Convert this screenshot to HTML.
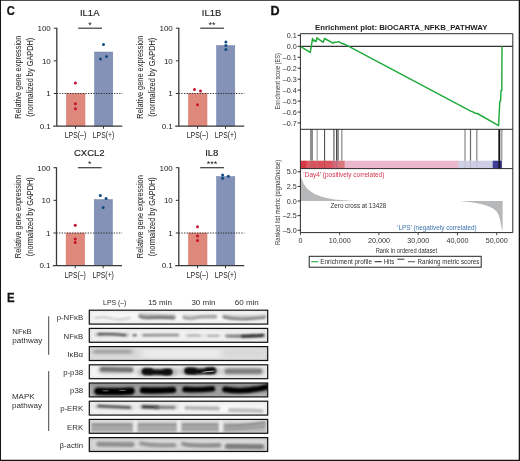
<!DOCTYPE html>
<html><head><meta charset="utf-8"><title>Figure</title>
<style>
html,body{margin:0;padding:0;background:#fff;}
body{width:520px;height:461px;overflow:hidden;position:relative;}
svg{position:absolute;left:0;top:0;display:block;}
svg text{font-family:"Liberation Sans",sans-serif;}
</style></head><body>
<svg width="520" height="461" viewBox="0 0 520 461">
<rect x="0" y="0" width="520" height="461" fill="#fff"/>
<g id="panelC">
<text x="89.7" y="16.2" font-size="9.5" text-anchor="middle" fill="#1c1c1c" stroke="#1c1c1c" stroke-width="0.15">IL1A</text>
<rect x="66.39999999999999" y="93.5" width="18.6" height="32.64999999999999" fill="#df887c" stroke="#d4756a" stroke-width="0.5"/>
<rect x="94.5" y="52.0" width="18.3" height="74.14999999999999" fill="#8492b7" stroke="#7383ad" stroke-width="0.5"/>
<line x1="56.8" y1="93.5" x2="122.3" y2="93.5" stroke="#222" stroke-width="0.9" stroke-dasharray="1.3 1.3"/>
<path d="M56.8 27.7V126.14999999999999M53.199999999999996 126.14999999999999H122.3" stroke="#3a3a3a" stroke-width="1.3" fill="none"/>
<line x1="53.8" y1="28.2" x2="56.8" y2="28.2" stroke="#333333" stroke-width="1"/>
<line x1="53.8" y1="60.849999999999994" x2="56.8" y2="60.849999999999994" stroke="#333333" stroke-width="1"/>
<line x1="53.8" y1="93.5" x2="56.8" y2="93.5" stroke="#333333" stroke-width="1"/>
<line x1="75.5" y1="126.14999999999999" x2="75.5" y2="128.75" stroke="#333333" stroke-width="1"/>
<line x1="103.5" y1="126.14999999999999" x2="103.5" y2="128.75" stroke="#333333" stroke-width="1"/>
<text x="50.8" y="31.0" font-size="8" text-anchor="end" fill="#222">100</text>
<text x="50.8" y="63.64999999999999" font-size="8" text-anchor="end" fill="#222">10</text>
<text x="50.8" y="96.3" font-size="8" text-anchor="end" fill="#222">1</text>
<text x="50.8" y="128.95" font-size="8" text-anchor="end" fill="#222">0.1</text>
<text x="75.5" y="138.25" font-size="8.6" text-anchor="middle" fill="#222" textLength="21.4" lengthAdjust="spacingAndGlyphs">LPS(–)</text>
<text x="103.5" y="138.25" font-size="8.6" text-anchor="middle" fill="#222" textLength="21.4" lengthAdjust="spacingAndGlyphs">LPS(+)</text>
<text x="21.4" y="77.175" font-size="9" text-anchor="middle" fill="#222" textLength="83" lengthAdjust="spacingAndGlyphs" transform="rotate(-90 21.4 77.175)">Relative gene expression</text>
<text x="33.5" y="77.175" font-size="9" text-anchor="middle" fill="#222" textLength="79" lengthAdjust="spacingAndGlyphs" transform="rotate(-90 33.5 77.175)">(normalized by GAPDH)</text>
<line x1="78.19999999999999" y1="28.2" x2="102.0" y2="28.2" stroke="#3a3a3a" stroke-width="1.2"/>
<text x="90.0" y="27.599999999999998" font-size="9" text-anchor="middle" fill="#222">*</text>
<circle cx="75.4" cy="82.9" r="1.5" fill="#c4122f"/>
<circle cx="75.4" cy="103.7" r="1.5" fill="#c4122f"/>
<circle cx="75.4" cy="108.8" r="1.5" fill="#c4122f"/>
<circle cx="103.5" cy="44.5" r="1.5" fill="#0f4c81"/>
<circle cx="100.5" cy="59.0" r="1.5" fill="#0f4c81"/>
<circle cx="106.5" cy="56.5" r="1.5" fill="#0f4c81"/>
<text x="211.6" y="16.2" font-size="9.5" text-anchor="middle" fill="#1c1c1c" stroke="#1c1c1c" stroke-width="0.15">IL1B</text>
<rect x="188.4" y="93.5" width="18.6" height="32.64999999999999" fill="#df887c" stroke="#d4756a" stroke-width="0.5"/>
<rect x="216.5" y="45.5" width="18.3" height="80.64999999999999" fill="#8492b7" stroke="#7383ad" stroke-width="0.5"/>
<line x1="178.8" y1="93.5" x2="244.3" y2="93.5" stroke="#222" stroke-width="0.9" stroke-dasharray="1.3 1.3"/>
<path d="M178.8 27.7V126.14999999999999M175.20000000000002 126.14999999999999H244.3" stroke="#3a3a3a" stroke-width="1.3" fill="none"/>
<line x1="175.8" y1="28.2" x2="178.8" y2="28.2" stroke="#333333" stroke-width="1"/>
<line x1="175.8" y1="60.849999999999994" x2="178.8" y2="60.849999999999994" stroke="#333333" stroke-width="1"/>
<line x1="175.8" y1="93.5" x2="178.8" y2="93.5" stroke="#333333" stroke-width="1"/>
<line x1="197.5" y1="126.14999999999999" x2="197.5" y2="128.75" stroke="#333333" stroke-width="1"/>
<line x1="225.5" y1="126.14999999999999" x2="225.5" y2="128.75" stroke="#333333" stroke-width="1"/>
<text x="172.8" y="31.0" font-size="8" text-anchor="end" fill="#222">100</text>
<text x="172.8" y="63.64999999999999" font-size="8" text-anchor="end" fill="#222">10</text>
<text x="172.8" y="96.3" font-size="8" text-anchor="end" fill="#222">1</text>
<text x="172.8" y="128.95" font-size="8" text-anchor="end" fill="#222">0.1</text>
<text x="197.5" y="138.25" font-size="8.6" text-anchor="middle" fill="#222" textLength="21.4" lengthAdjust="spacingAndGlyphs">LPS(–)</text>
<text x="225.5" y="138.25" font-size="8.6" text-anchor="middle" fill="#222" textLength="21.4" lengthAdjust="spacingAndGlyphs">LPS(+)</text>
<text x="143.4" y="77.175" font-size="9" text-anchor="middle" fill="#222" textLength="83" lengthAdjust="spacingAndGlyphs" transform="rotate(-90 143.4 77.175)">Relative gene expression</text>
<text x="155.5" y="77.175" font-size="9" text-anchor="middle" fill="#222" textLength="79" lengthAdjust="spacingAndGlyphs" transform="rotate(-90 155.5 77.175)">(normalized by GAPDH)</text>
<line x1="200.20000000000002" y1="28.2" x2="224.0" y2="28.2" stroke="#3a3a3a" stroke-width="1.2"/>
<text x="212.0" y="27.599999999999998" font-size="9" text-anchor="middle" fill="#222">**</text>
<circle cx="194.5" cy="89.6" r="1.5" fill="#c4122f"/>
<circle cx="200.5" cy="91.0" r="1.5" fill="#c4122f"/>
<circle cx="197.5" cy="104.8" r="1.5" fill="#c4122f"/>
<circle cx="225.9" cy="42.0" r="1.5" fill="#0f4c81"/>
<circle cx="225.9" cy="45.5" r="1.5" fill="#0f4c81"/>
<circle cx="225.9" cy="49.6" r="1.5" fill="#0f4c81"/>
<text x="89.3" y="155.7" font-size="9.5" text-anchor="middle" fill="#1c1c1c" stroke="#1c1c1c" stroke-width="0.15">CXCL2</text>
<rect x="66.1" y="233.0" width="18.6" height="32.64999999999998" fill="#df887c" stroke="#d4756a" stroke-width="0.5"/>
<rect x="94.2" y="199.5" width="18.3" height="66.14999999999998" fill="#8492b7" stroke="#7383ad" stroke-width="0.5"/>
<line x1="56.5" y1="233.0" x2="122.0" y2="233.0" stroke="#222" stroke-width="0.9" stroke-dasharray="1.3 1.3"/>
<path d="M56.5 167.2V265.65M52.9 265.65H122.0" stroke="#3a3a3a" stroke-width="1.3" fill="none"/>
<line x1="53.5" y1="167.7" x2="56.5" y2="167.7" stroke="#333333" stroke-width="1"/>
<line x1="53.5" y1="200.35" x2="56.5" y2="200.35" stroke="#333333" stroke-width="1"/>
<line x1="53.5" y1="233.0" x2="56.5" y2="233.0" stroke="#333333" stroke-width="1"/>
<line x1="75.2" y1="265.65" x2="75.2" y2="268.25" stroke="#333333" stroke-width="1"/>
<line x1="103.2" y1="265.65" x2="103.2" y2="268.25" stroke="#333333" stroke-width="1"/>
<text x="50.5" y="170.5" font-size="8" text-anchor="end" fill="#222">100</text>
<text x="50.5" y="203.15" font-size="8" text-anchor="end" fill="#222">10</text>
<text x="50.5" y="235.8" font-size="8" text-anchor="end" fill="#222">1</text>
<text x="50.5" y="268.45" font-size="8" text-anchor="end" fill="#222">0.1</text>
<text x="75.2" y="277.75" font-size="8.6" text-anchor="middle" fill="#222" textLength="21.4" lengthAdjust="spacingAndGlyphs">LPS(–)</text>
<text x="103.2" y="277.75" font-size="8.6" text-anchor="middle" fill="#222" textLength="21.4" lengthAdjust="spacingAndGlyphs">LPS(+)</text>
<text x="21.1" y="216.67499999999998" font-size="9" text-anchor="middle" fill="#222" textLength="83" lengthAdjust="spacingAndGlyphs" transform="rotate(-90 21.1 216.67499999999998)">Relative gene expression</text>
<text x="33.2" y="216.67499999999998" font-size="9" text-anchor="middle" fill="#222" textLength="79" lengthAdjust="spacingAndGlyphs" transform="rotate(-90 33.2 216.67499999999998)">(normalized by GAPDH)</text>
<line x1="77.9" y1="167.7" x2="101.7" y2="167.7" stroke="#3a3a3a" stroke-width="1.2"/>
<text x="89.7" y="167.1" font-size="9" text-anchor="middle" fill="#222">*</text>
<circle cx="75.2" cy="225.2" r="1.5" fill="#c4122f"/>
<circle cx="75.2" cy="239.1" r="1.5" fill="#c4122f"/>
<circle cx="75.2" cy="242.5" r="1.5" fill="#c4122f"/>
<circle cx="100.3" cy="195.6" r="1.5" fill="#0f4c81"/>
<circle cx="106.1" cy="198.6" r="1.5" fill="#0f4c81"/>
<circle cx="103.1" cy="207.4" r="1.5" fill="#0f4c81"/>
<text x="211.8" y="155.7" font-size="9.5" text-anchor="middle" fill="#1c1c1c" stroke="#1c1c1c" stroke-width="0.15">IL8</text>
<rect x="188.4" y="233.0" width="18.6" height="32.64999999999998" fill="#df887c" stroke="#d4756a" stroke-width="0.5"/>
<rect x="216.5" y="176.5" width="18.3" height="89.14999999999998" fill="#8492b7" stroke="#7383ad" stroke-width="0.5"/>
<line x1="178.8" y1="233.0" x2="244.3" y2="233.0" stroke="#222" stroke-width="0.9" stroke-dasharray="1.3 1.3"/>
<path d="M178.8 167.2V265.65M175.20000000000002 265.65H244.3" stroke="#3a3a3a" stroke-width="1.3" fill="none"/>
<line x1="175.8" y1="167.7" x2="178.8" y2="167.7" stroke="#333333" stroke-width="1"/>
<line x1="175.8" y1="200.35" x2="178.8" y2="200.35" stroke="#333333" stroke-width="1"/>
<line x1="175.8" y1="233.0" x2="178.8" y2="233.0" stroke="#333333" stroke-width="1"/>
<line x1="197.5" y1="265.65" x2="197.5" y2="268.25" stroke="#333333" stroke-width="1"/>
<line x1="225.5" y1="265.65" x2="225.5" y2="268.25" stroke="#333333" stroke-width="1"/>
<text x="172.8" y="170.5" font-size="8" text-anchor="end" fill="#222">100</text>
<text x="172.8" y="203.15" font-size="8" text-anchor="end" fill="#222">10</text>
<text x="172.8" y="235.8" font-size="8" text-anchor="end" fill="#222">1</text>
<text x="172.8" y="268.45" font-size="8" text-anchor="end" fill="#222">0.1</text>
<text x="197.5" y="277.75" font-size="8.6" text-anchor="middle" fill="#222" textLength="21.4" lengthAdjust="spacingAndGlyphs">LPS(–)</text>
<text x="225.5" y="277.75" font-size="8.6" text-anchor="middle" fill="#222" textLength="21.4" lengthAdjust="spacingAndGlyphs">LPS(+)</text>
<text x="143.4" y="216.67499999999998" font-size="9" text-anchor="middle" fill="#222" textLength="83" lengthAdjust="spacingAndGlyphs" transform="rotate(-90 143.4 216.67499999999998)">Relative gene expression</text>
<text x="155.5" y="216.67499999999998" font-size="9" text-anchor="middle" fill="#222" textLength="79" lengthAdjust="spacingAndGlyphs" transform="rotate(-90 155.5 216.67499999999998)">(normalized by GAPDH)</text>
<line x1="200.20000000000002" y1="167.7" x2="224.0" y2="167.7" stroke="#3a3a3a" stroke-width="1.2"/>
<text x="212.0" y="167.1" font-size="9" text-anchor="middle" fill="#222">***</text>
<circle cx="197.5" cy="226.8" r="1.5" fill="#c4122f"/>
<circle cx="197.5" cy="236.1" r="1.5" fill="#c4122f"/>
<circle cx="197.5" cy="240.5" r="1.5" fill="#c4122f"/>
<circle cx="222.6" cy="175.1" r="1.5" fill="#0f4c81"/>
<circle cx="228.4" cy="176.2" r="1.5" fill="#0f4c81"/>
<circle cx="222.6" cy="178.3" r="1.5" fill="#0f4c81"/>
</g>
<text x="6.8" y="15.5" font-size="12" text-anchor="start" fill="#111" font-weight="bold" stroke="#111" stroke-width="0.25" transform="translate(6.8 0) scale(0.93 1) translate(-6.8 0)">C</text>
<text x="270.4" y="15.5" font-size="12" text-anchor="start" fill="#111" font-weight="bold" stroke="#111" stroke-width="0.25" transform="translate(270.4 0) scale(1.05 1) translate(-270.4 0)">D</text>
<text x="6.9" y="302.0" font-size="12" text-anchor="start" fill="#111" font-weight="bold" stroke="#111" stroke-width="0.25" transform="translate(6.9 0) scale(0.95 1) translate(-6.9 0)">E</text>
<g id="panelD">
<text x="315" y="29.5" font-size="7.6" text-anchor="start" fill="#222" font-weight="bold" textLength="172.4" lengthAdjust="spacingAndGlyphs">Enrichment plot: BIOCARTA_NFKB_PATHWAY</text>
<line x1="297.59999999999997" y1="35.400000000000006" x2="300.4" y2="35.400000000000006" stroke="#333333" stroke-width="1.05"/>
<text x="296.79999999999995" y="37.900000000000006" font-size="7.2" text-anchor="end" fill="#2e2e2e">0.1</text>
<line x1="297.59999999999997" y1="46.35" x2="300.4" y2="46.35" stroke="#333333" stroke-width="1.05"/>
<text x="296.79999999999995" y="48.85" font-size="7.2" text-anchor="end" fill="#2e2e2e">0.0</text>
<line x1="297.59999999999997" y1="57.3" x2="300.4" y2="57.3" stroke="#333333" stroke-width="1.05"/>
<text x="296.79999999999995" y="59.8" font-size="7.2" text-anchor="end" fill="#2e2e2e">–0.1</text>
<line x1="297.59999999999997" y1="68.25" x2="300.4" y2="68.25" stroke="#333333" stroke-width="1.05"/>
<text x="296.79999999999995" y="70.75" font-size="7.2" text-anchor="end" fill="#2e2e2e">–0.2</text>
<line x1="297.59999999999997" y1="79.19999999999999" x2="300.4" y2="79.19999999999999" stroke="#333333" stroke-width="1.05"/>
<text x="296.79999999999995" y="81.69999999999999" font-size="7.2" text-anchor="end" fill="#2e2e2e">–0.3</text>
<line x1="297.59999999999997" y1="90.15" x2="300.4" y2="90.15" stroke="#333333" stroke-width="1.05"/>
<text x="296.79999999999995" y="92.65" font-size="7.2" text-anchor="end" fill="#2e2e2e">–0.4</text>
<line x1="297.59999999999997" y1="101.1" x2="300.4" y2="101.1" stroke="#333333" stroke-width="1.05"/>
<text x="296.79999999999995" y="103.6" font-size="7.2" text-anchor="end" fill="#2e2e2e">–0.5</text>
<line x1="297.59999999999997" y1="112.04999999999998" x2="300.4" y2="112.04999999999998" stroke="#333333" stroke-width="1.05"/>
<text x="296.79999999999995" y="114.54999999999998" font-size="7.2" text-anchor="end" fill="#2e2e2e">–0.6</text>
<line x1="297.59999999999997" y1="123.0" x2="300.4" y2="123.0" stroke="#333333" stroke-width="1.05"/>
<text x="296.79999999999995" y="125.5" font-size="7.2" text-anchor="end" fill="#2e2e2e">–0.7</text>
<text x="279.6" y="81.3" font-size="7.7" text-anchor="middle" fill="#383838" textLength="56.5" lengthAdjust="spacingAndGlyphs" transform="rotate(-90 279.6 81.3)">Enrichment score (ES)</text>
<line x1="300.4" y1="46.35" x2="512.8" y2="46.35" stroke="#333" stroke-width="1.1"/>
<polyline fill="none" stroke="#1faa3a" stroke-width="1.45" stroke-linejoin="round" points="300.4,46.30 310.2,52.40 311.4,45.90 312.5,38.50 313.8,41.20 314.5,40.20 316.1,41.60 316.9,37.80 323.3,42.30 324.6,38.50 333.0,43.20 334.3,42.10 336.0,42.40 338.7,41.60 341.4,43.20 344.8,44.30 348.8,46.40 471.2,111.40 472.5,111.70 475.0,113.30 477.4,113.50 498.6,125.60 499.8,101.40 500.6,100.90 501.0,90.70 501.8,90.40 502.0,46.40"/>
<defs><linearGradient id="cb" x1="0" x2="1" y1="0" y2="0" gradientUnits="objectBoundingBox">
<stop offset="0.0000" stop-color="#d5363f"/>
<stop offset="0.0245" stop-color="#d63a44"/>
<stop offset="0.0330" stop-color="#db5a62"/>
<stop offset="0.0428" stop-color="#db5a62"/>
<stop offset="0.0499" stop-color="#d8505a"/>
<stop offset="0.1111" stop-color="#d9525b"/>
<stop offset="0.1441" stop-color="#d9565e"/>
<stop offset="0.1605" stop-color="#d8657a"/>
<stop offset="0.1742" stop-color="#d66c86"/>
<stop offset="0.1789" stop-color="#dd7378"/>
<stop offset="0.2053" stop-color="#de7679"/>
<stop offset="0.2109" stop-color="#ecb6cd"/>
<stop offset="0.7401" stop-color="#ecb6cd"/>
<stop offset="0.7458" stop-color="#cfcfe6"/>
<stop offset="0.9030" stop-color="#cdcde5"/>
<stop offset="0.9077" stop-color="#40409a"/>
<stop offset="0.9473" stop-color="#3c3c94"/>
<stop offset="0.9510" stop-color="#ffffff"/>
<stop offset="1.0000" stop-color="#ffffff"/>
</linearGradient></defs>
<rect x="300.4" y="160.7" width="212.39999999999998" height="7.900000000000006" fill="url(#cb)"/>
<line x1="311.5" y1="129.3" x2="311.5" y2="160.7" stroke="#8e8e8e" stroke-width="3.0"/>
<line x1="311.5" y1="160.7" x2="311.5" y2="168.6" stroke="#8e8e8e" stroke-width="3.0" opacity="0.18"/>
<line x1="317.2" y1="129.3" x2="317.2" y2="160.7" stroke="#b2b2b2" stroke-width="1.4"/>
<line x1="317.2" y1="160.7" x2="317.2" y2="168.6" stroke="#b2b2b2" stroke-width="1.4" opacity="0.18"/>
<line x1="324.6" y1="129.3" x2="324.6" y2="160.7" stroke="#2a2a2a" stroke-width="0.9"/>
<line x1="324.6" y1="160.7" x2="324.6" y2="168.6" stroke="#2a2a2a" stroke-width="0.9" opacity="0.18"/>
<line x1="333.9" y1="129.3" x2="333.9" y2="160.7" stroke="#8e8e8e" stroke-width="1.7"/>
<line x1="333.9" y1="160.7" x2="333.9" y2="168.6" stroke="#8e8e8e" stroke-width="1.7" opacity="0.18"/>
<line x1="338.0" y1="129.3" x2="338.0" y2="160.7" stroke="#929292" stroke-width="2.0"/>
<line x1="338.0" y1="160.7" x2="338.0" y2="168.6" stroke="#929292" stroke-width="2.0" opacity="0.18"/>
<line x1="336.5" y1="129.3" x2="336.5" y2="160.7" stroke="#4a4a4a" stroke-width="1.0"/>
<line x1="336.5" y1="160.7" x2="336.5" y2="168.6" stroke="#4a4a4a" stroke-width="1.0" opacity="0.18"/>
<line x1="341.8" y1="129.3" x2="341.8" y2="160.7" stroke="#9e9e9e" stroke-width="1.5"/>
<line x1="341.8" y1="160.7" x2="341.8" y2="168.6" stroke="#9e9e9e" stroke-width="1.5" opacity="0.18"/>
<line x1="465.0" y1="129.3" x2="465.0" y2="160.7" stroke="#9a9a9a" stroke-width="1.4"/>
<line x1="465.0" y1="160.7" x2="465.0" y2="168.6" stroke="#9a9a9a" stroke-width="1.4" opacity="0.18"/>
<line x1="470.5" y1="129.3" x2="470.5" y2="160.7" stroke="#6c6c6c" stroke-width="1.2"/>
<line x1="470.5" y1="160.7" x2="470.5" y2="168.6" stroke="#6c6c6c" stroke-width="1.2" opacity="0.18"/>
<line x1="476.8" y1="129.3" x2="476.8" y2="160.7" stroke="#8c8c8c" stroke-width="1.3"/>
<line x1="476.8" y1="160.7" x2="476.8" y2="168.6" stroke="#8c8c8c" stroke-width="1.3" opacity="0.18"/>
<line x1="499.3" y1="129.3" x2="499.3" y2="160.7" stroke="#111" stroke-width="1.9"/>
<line x1="499.3" y1="160.7" x2="499.3" y2="168.6" stroke="#111" stroke-width="1.9" opacity="0.9"/>
<line x1="501.8" y1="129.3" x2="501.8" y2="160.7" stroke="#8c8c8c" stroke-width="1.2"/>
<line x1="501.8" y1="160.7" x2="501.8" y2="168.6" stroke="#8c8c8c" stroke-width="1.2" opacity="0.18"/>
<polygon fill="#b7b8ba" points="300.40,200.95 300.40,175.85 300.90,176.95 301.80,179.05 303.70,183.65 305.50,186.55 307.50,188.85 311.40,191.95 315.20,194.25 321.00,196.55 326.80,198.05 334.50,199.45 344.10,200.35 353.70,200.95"/>
<polygon fill="#b7b8ba" points="459.40,201.05 467.50,201.65 474.20,202.65 481.00,203.95 487.70,205.95 493.10,208.45 496.40,211.15 498.50,214.45 500.10,219.85 501.10,225.25 502.20,230.35 502.60,230.35 502.60,201.05"/>
<line x1="297.59999999999997" y1="171.76" x2="300.4" y2="171.76" stroke="#333333" stroke-width="1.05"/>
<text x="296.79999999999995" y="174.26" font-size="7.2" text-anchor="end" fill="#2e2e2e">5.0</text>
<line x1="297.59999999999997" y1="186.38" x2="300.4" y2="186.38" stroke="#333333" stroke-width="1.05"/>
<text x="296.79999999999995" y="188.88" font-size="7.2" text-anchor="end" fill="#2e2e2e">2.5</text>
<line x1="297.59999999999997" y1="201.0" x2="300.4" y2="201.0" stroke="#333333" stroke-width="1.05"/>
<text x="296.79999999999995" y="203.5" font-size="7.2" text-anchor="end" fill="#2e2e2e">0.0</text>
<line x1="297.59999999999997" y1="215.62" x2="300.4" y2="215.62" stroke="#333333" stroke-width="1.05"/>
<text x="296.79999999999995" y="218.12" font-size="7.2" text-anchor="end" fill="#2e2e2e">–2.5</text>
<line x1="297.59999999999997" y1="230.24" x2="300.4" y2="230.24" stroke="#333333" stroke-width="1.05"/>
<text x="296.79999999999995" y="232.74" font-size="7.2" text-anchor="end" fill="#2e2e2e">–5.0</text>
<line x1="300.4" y1="232.6" x2="300.4" y2="235.2" stroke="#333333" stroke-width="0.9"/>
<text x="300.4" y="243.2" font-size="7.2" text-anchor="middle" fill="#333">0</text>
<line x1="339.65999999999997" y1="232.6" x2="339.65999999999997" y2="235.2" stroke="#333333" stroke-width="0.9"/>
<text x="339.65999999999997" y="243.2" font-size="7.2" text-anchor="middle" fill="#333">10,000</text>
<line x1="378.91999999999996" y1="232.6" x2="378.91999999999996" y2="235.2" stroke="#333333" stroke-width="0.9"/>
<text x="378.91999999999996" y="243.2" font-size="7.2" text-anchor="middle" fill="#333">20,000</text>
<line x1="418.17999999999995" y1="232.6" x2="418.17999999999995" y2="235.2" stroke="#333333" stroke-width="0.9"/>
<text x="418.17999999999995" y="243.2" font-size="7.2" text-anchor="middle" fill="#333">30,000</text>
<line x1="457.43999999999994" y1="232.6" x2="457.43999999999994" y2="235.2" stroke="#333333" stroke-width="0.9"/>
<text x="457.43999999999994" y="243.2" font-size="7.2" text-anchor="middle" fill="#333">40,000</text>
<line x1="496.7" y1="232.6" x2="496.7" y2="235.2" stroke="#333333" stroke-width="0.9"/>
<text x="496.7" y="243.2" font-size="7.2" text-anchor="middle" fill="#333">50,000</text>
<text x="279.6" y="202.4" font-size="7.7" text-anchor="middle" fill="#383838" textLength="85" lengthAdjust="spacingAndGlyphs" transform="rotate(-90 279.6 202.4)">Ranked list metric (signal2noise)</text>
<text x="406.4" y="253.0" font-size="8" text-anchor="middle" fill="#333" textLength="61.4" lengthAdjust="spacingAndGlyphs">Rank in ordered dataset</text>
<text x="303.3" y="176.8" font-size="7.0" text-anchor="start" fill="#d4314b" textLength="81" lengthAdjust="spacingAndGlyphs">‘Day4’ (positively correlated)</text>
<text x="397.0" y="229.6" font-size="7.0" text-anchor="start" fill="#3a73ae" textLength="79.7" lengthAdjust="spacingAndGlyphs">‘LPS’ (negatively correlated)</text>
<text x="330.5" y="207.5" font-size="7.0" text-anchor="start" fill="#333" textLength="55.7" lengthAdjust="spacingAndGlyphs">Zero cross at 13428</text>
<path d="M300.4 33.7H512.8V232.6H300.4Z M300.4 129.3H512.8 M300.4 168.6H512.8" fill="none" stroke="#2a2a2a" stroke-width="1"/>
<rect x="309.2" y="256.3" width="172.0" height="10.9" fill="#fff" stroke="#222" stroke-width="1"/>
<line x1="311.2" y1="261.7" x2="318.3" y2="261.7" stroke="#23a83a" stroke-width="1.1"/>
<text x="320.2" y="264.0" font-size="7.0" text-anchor="start" fill="#333" textLength="51.9" lengthAdjust="spacingAndGlyphs">Enrichment profile</text>
<line x1="374.6" y1="261.7" x2="381.7" y2="261.7" stroke="#222" stroke-width="1"/>
<text x="383.7" y="264.0" font-size="7.0" text-anchor="start" fill="#333" textLength="10.5" lengthAdjust="spacingAndGlyphs">Hits</text>
<line x1="397.3" y1="259.2" x2="404.4" y2="259.2" stroke="#222" stroke-width="0.9"/>
<line x1="407.9" y1="261.7" x2="415.0" y2="261.7" stroke="#555" stroke-width="1"/>
<text x="417.5" y="264.0" font-size="7.0" text-anchor="start" fill="#333" textLength="61.9" lengthAdjust="spacingAndGlyphs">Ranking metric scores</text>
</g>
<g id="panelE">
<defs><filter id="b1" filterUnits="userSpaceOnUse" x="80" y="300" width="200" height="161"><feGaussianBlur stdDeviation="1.3 0.8"/></filter><filter id="b2" filterUnits="userSpaceOnUse" x="80" y="300" width="200" height="161"><feGaussianBlur stdDeviation="2.2 1.5"/></filter><filter id="b3" filterUnits="userSpaceOnUse" x="80" y="300" width="200" height="161"><feGaussianBlur stdDeviation="1.0 0.55"/></filter><filter id="b4" filterUnits="userSpaceOnUse" x="80" y="300" width="200" height="161"><feGaussianBlur stdDeviation="3 2.2"/></filter></defs>
<text x="114.7" y="305.4" font-size="7.8" text-anchor="middle" fill="#2e2e2e" textLength="23.2" lengthAdjust="spacingAndGlyphs">LPS (–)</text>
<text x="159.9" y="305.4" font-size="7.8" text-anchor="middle" fill="#2e2e2e" textLength="24.0" lengthAdjust="spacingAndGlyphs">15 min</text>
<text x="203.4" y="305.4" font-size="7.8" text-anchor="middle" fill="#2e2e2e" textLength="24.0" lengthAdjust="spacingAndGlyphs">30 min</text>
<text x="246.8" y="305.4" font-size="7.8" text-anchor="middle" fill="#2e2e2e" textLength="24.0" lengthAdjust="spacingAndGlyphs">60 min</text>
<text x="12.3" y="333.7" font-size="7.8" text-anchor="start" fill="#2e2e2e" textLength="19.5" lengthAdjust="spacingAndGlyphs">NFκB</text>
<text x="12.3" y="343.2" font-size="7.8" text-anchor="start" fill="#2e2e2e" textLength="30" lengthAdjust="spacingAndGlyphs">pathway</text>
<text x="12.0" y="398.7" font-size="7.8" text-anchor="start" fill="#2e2e2e" textLength="22.5" lengthAdjust="spacingAndGlyphs">MAPK</text>
<text x="12.0" y="408.4" font-size="7.8" text-anchor="start" fill="#2e2e2e" textLength="30" lengthAdjust="spacingAndGlyphs">pathway</text>
<line x1="48.7" y1="316.3" x2="48.7" y2="354.8" stroke="#333" stroke-width="0.9"/>
<line x1="48.7" y1="371.1" x2="48.7" y2="431.0" stroke="#333" stroke-width="0.9"/>
<text x="83.1" y="320.3" font-size="7.8" text-anchor="end" fill="#2e2e2e">p-NFκB</text>
<clipPath id="c0"><rect x="89.3" y="310.2" width="178.39999999999998" height="13.9"/></clipPath>
<rect x="89.3" y="310.2" width="178.39999999999998" height="13.9" fill="#f7f7f7"/>
<g clip-path="url(#c0)">
<rect x="89.3" y="310.2" width="178.39999999999998" height="13.9" fill="none" stroke="#000" stroke-opacity="0.07" stroke-width="3.5" filter="url(#b2)"/>
<path d="M95 318 Q104 316.3 112 318.5 T130 317.8" fill="none" stroke="#c2c2c2" stroke-width="1.8" stroke-linecap="round" filter="url(#b1)" opacity="1"/>
<path d="M140.5 315.6 Q156 316.2 173.5 316.6" fill="none" stroke="#c6c6c6" stroke-width="5.2" stroke-linecap="round" filter="url(#b1)" opacity="1"/>
<path d="M140.5 316.4 Q143 318.2 152 317.6 T173.5 317.8" fill="none" stroke="#767676" stroke-width="3.0" stroke-linecap="round" filter="url(#b1)" opacity="1"/>
<path d="M184 316.8 Q198 317 215.5 316.6" fill="none" stroke="#d2d2d2" stroke-width="4.4" stroke-linecap="round" filter="url(#b1)" opacity="1"/>
<path d="M184 317.4 Q189 319.6 196 317.6 Q201 316.2 215.5 316.8" fill="none" stroke="#9a9a9a" stroke-width="2.4" stroke-linecap="round" filter="url(#b1)" opacity="1"/>
<path d="M224 316.2 Q244 318 264.5 316.2" fill="none" stroke="#cccccc" stroke-width="4.6" stroke-linecap="round" filter="url(#b1)" opacity="1"/>
<path d="M224 317 Q233 319.6 246 319.0 T264.5 317.4" fill="none" stroke="#7c7c7c" stroke-width="2.4" stroke-linecap="round" filter="url(#b1)" opacity="1"/>
</g>
<rect x="89.3" y="310.2" width="178.39999999999998" height="13.9" fill="none" stroke="#111" stroke-width="1.2"/>
<text x="83.1" y="338.5" font-size="7.8" text-anchor="end" fill="#2e2e2e">NFκB</text>
<clipPath id="c1"><rect x="89.3" y="328.4" width="178.39999999999998" height="13.9"/></clipPath>
<rect x="89.3" y="328.4" width="178.39999999999998" height="13.9" fill="#f3f3f3"/>
<g clip-path="url(#c1)">
<rect x="89.3" y="328.4" width="178.39999999999998" height="13.9" fill="none" stroke="#000" stroke-opacity="0.09" stroke-width="3.5" filter="url(#b2)"/>
<line x1="96" y1="334.8" x2="128" y2="334.8" stroke="#d2d2d2" stroke-width="4.4" stroke-linecap="round" filter="url(#b1)" opacity="1"/>
<path d="M98.5 334.1 Q112 333.5 125.5 335.2" fill="none" stroke="#444" stroke-width="2.1" stroke-linecap="round" filter="url(#b1)" opacity="1"/>
<line x1="133.4" y1="335.3" x2="136.0" y2="335.3" stroke="#505050" stroke-width="2.0" stroke-linecap="round" filter="url(#b1)" opacity="1"/>
<line x1="142.5" y1="335.2" x2="178.5" y2="335.2" stroke="#d8d8d8" stroke-width="4.0" stroke-linecap="round" filter="url(#b1)" opacity="1"/>
<line x1="143.5" y1="335.2" x2="178" y2="335.0" stroke="#707070" stroke-width="1.5" stroke-linecap="round" filter="url(#b1)" opacity="1"/>
<line x1="186" y1="335.6" x2="220" y2="335.6" stroke="#e0e0e0" stroke-width="3.4" stroke-linecap="round" filter="url(#b1)" opacity="1"/>
<line x1="188" y1="335.5" x2="199.5" y2="335.5" stroke="#9c9c9c" stroke-width="1.5" stroke-linecap="round" filter="url(#b1)" opacity="1"/>
<line x1="208" y1="335.7" x2="218.5" y2="335.7" stroke="#9c9c9c" stroke-width="1.5" stroke-linecap="round" filter="url(#b1)" opacity="1"/>
<line x1="226" y1="335.8" x2="264.5" y2="335.8" stroke="#cecece" stroke-width="4.4" stroke-linecap="round" filter="url(#b1)" opacity="1"/>
<path d="M227 336.1 Q245 336.5 263 335.3" fill="none" stroke="#6a6a6a" stroke-width="1.9" stroke-linecap="round" filter="url(#b1)" opacity="1"/>
<path d="M242 336.3 Q253 336.1 263 335.3" fill="none" stroke="#2c2c2c" stroke-width="2.3" stroke-linecap="round" filter="url(#b1)" opacity="1"/>
</g>
<rect x="89.3" y="328.4" width="178.39999999999998" height="13.9" fill="none" stroke="#111" stroke-width="1.2"/>
<text x="83.1" y="356.7" font-size="7.8" text-anchor="end" fill="#2e2e2e">IκBα</text>
<clipPath id="c2"><rect x="89.3" y="346.59999999999997" width="178.39999999999998" height="13.9"/></clipPath>
<rect x="89.3" y="346.59999999999997" width="178.39999999999998" height="13.9" fill="#ebebeb"/>
<g clip-path="url(#c2)">
<rect x="89.3" y="346.59999999999997" width="178.39999999999998" height="13.9" fill="none" stroke="#000" stroke-opacity="0.14" stroke-width="3.5" filter="url(#b2)"/>
<rect x="89.3" y="346.59999999999997" width="52" height="13.9" fill="#d8d8d8" filter="url(#b4)"/>
<line x1="94.5" y1="351.6" x2="130.5" y2="351.6" stroke="#9a9a9a" stroke-width="3.6" stroke-linecap="round" filter="url(#b2)" opacity="1"/>
<rect x="222" y="348" width="44" height="10" fill="#d8d8d8" filter="url(#b4)"/>
</g>
<rect x="89.3" y="346.59999999999997" width="178.39999999999998" height="13.9" fill="none" stroke="#111" stroke-width="1.2"/>
<text x="83.1" y="374.9" font-size="7.8" text-anchor="end" fill="#2e2e2e">p-p38</text>
<clipPath id="c3"><rect x="89.3" y="364.79999999999995" width="178.39999999999998" height="13.9"/></clipPath>
<rect x="89.3" y="364.79999999999995" width="178.39999999999998" height="13.9" fill="#f7f7f7"/>
<g clip-path="url(#c3)">
<rect x="89.3" y="364.79999999999995" width="178.39999999999998" height="13.9" fill="none" stroke="#000" stroke-opacity="0.07" stroke-width="3.5" filter="url(#b2)"/>
<line x1="102" y1="370.2" x2="131" y2="370.2" stroke="#c4c4c4" stroke-width="8.0" stroke-linecap="round" filter="url(#b2)" opacity="1"/>
<line x1="102" y1="369.3" x2="131" y2="369.9" stroke="#6e6e6e" stroke-width="4.4" stroke-linecap="round" filter="url(#b1)" opacity="1"/>
<line x1="141" y1="372.0" x2="175" y2="372.0" stroke="#b8b8b8" stroke-width="8.0" stroke-linecap="round" filter="url(#b2)" opacity="1"/>
<path d="M145 371.6 Q157 372.8 169.5 372.0" fill="none" stroke="#0a0a0a" stroke-width="5.4" stroke-linecap="round" filter="url(#b1)" opacity="1"/>
<line x1="145.5" y1="371.5" x2="150" y2="371.5" stroke="#0a0a0a" stroke-width="6.6" stroke-linecap="round" filter="url(#b1)" opacity="1"/>
<line x1="165.5" y1="372.0" x2="169" y2="372.0" stroke="#0a0a0a" stroke-width="6.0" stroke-linecap="round" filter="url(#b1)" opacity="1"/>
<line x1="183.5" y1="371.2" x2="216.5" y2="371.2" stroke="#b8b8b8" stroke-width="8.0" stroke-linecap="round" filter="url(#b2)" opacity="1"/>
<path d="M187.5 371.0 Q200 372.2 213 370.8" fill="none" stroke="#0e0e0e" stroke-width="5.4" stroke-linecap="round" filter="url(#b1)" opacity="1"/>
<line x1="188" y1="370.9" x2="194" y2="370.9" stroke="#0e0e0e" stroke-width="6.2" stroke-linecap="round" filter="url(#b1)" opacity="1"/>
<line x1="208" y1="370.6" x2="212.5" y2="370.6" stroke="#0e0e0e" stroke-width="6.4" stroke-linecap="round" filter="url(#b1)" opacity="1"/>
<line x1="203" y1="372.2" x2="214" y2="371.0" stroke="#c8c8c8" stroke-width="1.0" stroke-linecap="round" filter="url(#b3)" opacity="1"/>
<line x1="225.5" y1="371.4" x2="261" y2="371.4" stroke="#c0c0c0" stroke-width="8.0" stroke-linecap="round" filter="url(#b2)" opacity="1"/>
<line x1="227.5" y1="371.2" x2="259.5" y2="371.2" stroke="#7e7e7e" stroke-width="5.0" stroke-linecap="round" filter="url(#b1)" opacity="1"/>
</g>
<rect x="89.3" y="364.79999999999995" width="178.39999999999998" height="13.9" fill="none" stroke="#111" stroke-width="1.2"/>
<text x="83.1" y="393.1" font-size="7.8" text-anchor="end" fill="#2e2e2e">p38</text>
<clipPath id="c4"><rect x="89.3" y="383.0" width="178.39999999999998" height="13.9"/></clipPath>
<rect x="89.3" y="383.0" width="178.39999999999998" height="13.9" fill="#d6d6d6"/>
<g clip-path="url(#c4)">
<rect x="89.3" y="383.0" width="178.39999999999998" height="13.9" fill="none" stroke="#000" stroke-opacity="0.16" stroke-width="3.5" filter="url(#b2)"/>
<path d="M97 390.2 Q180 391.6 270 387.0" fill="none" stroke="#9c9c9c" stroke-width="15" stroke-linecap="round" filter="url(#b2)" opacity="1"/>
<rect x="89.3" y="383.0" width="178.39999999999998" height="3" fill="#8c8c8c" filter="url(#b1)" opacity="0.8"/>
<path d="M98 391.2 Q114 392.0 131 391.0" fill="none" stroke="#040404" stroke-width="7.4" stroke-linecap="round" filter="url(#b1)" opacity="1"/>
<line x1="103" y1="390.8" x2="108" y2="390.8" stroke="#9a9a9a" stroke-width="0.8" stroke-linecap="round" filter="url(#b3)" opacity="1"/>
<line x1="120" y1="390.4" x2="125" y2="390.4" stroke="#9a9a9a" stroke-width="0.8" stroke-linecap="round" filter="url(#b3)" opacity="1"/>
<path d="M143 390.3 Q157 391 173 389.9" fill="none" stroke="#040404" stroke-width="6.4" stroke-linecap="round" filter="url(#b1)" opacity="1"/>
<path d="M185 389.4 Q198 390.4 212.5 388.8" fill="none" stroke="#040404" stroke-width="5.6" stroke-linecap="round" filter="url(#b1)" opacity="1"/>
<path d="M225 389.4 Q245 392.8 270 386.2" fill="none" stroke="#040404" stroke-width="5.8" stroke-linecap="round" filter="url(#b1)" opacity="1"/>
</g>
<rect x="89.3" y="383.0" width="178.39999999999998" height="13.9" fill="none" stroke="#111" stroke-width="1.2"/>
<text x="83.1" y="411.3" font-size="7.8" text-anchor="end" fill="#2e2e2e">p-ERK</text>
<clipPath id="c5"><rect x="89.3" y="401.2" width="178.39999999999998" height="13.9"/></clipPath>
<rect x="89.3" y="401.2" width="178.39999999999998" height="13.9" fill="#f6f6f6"/>
<g clip-path="url(#c5)">
<rect x="89.3" y="401.2" width="178.39999999999998" height="13.9" fill="none" stroke="#000" stroke-opacity="0.07" stroke-width="3.5" filter="url(#b2)"/>
<line x1="96" y1="406.6" x2="132" y2="407.6" stroke="#d2d2d2" stroke-width="5.4" stroke-linecap="round" filter="url(#b2)" opacity="1"/>
<line x1="98.5" y1="406.0" x2="129.5" y2="407.6" stroke="#484848" stroke-width="2.5" stroke-linecap="round" filter="url(#b1)" opacity="1"/>
<line x1="141" y1="407.0" x2="176" y2="407.0" stroke="#cfcfcf" stroke-width="5.6" stroke-linecap="round" filter="url(#b2)" opacity="1"/>
<line x1="143" y1="406.8" x2="158" y2="407.2" stroke="#2e2e2e" stroke-width="3.0" stroke-linecap="round" filter="url(#b1)" opacity="1"/>
<line x1="156" y1="407.2" x2="174" y2="407.6" stroke="#767676" stroke-width="2.5" stroke-linecap="round" filter="url(#b1)" opacity="1"/>
<line x1="186" y1="407.9" x2="218" y2="408.5" stroke="#b2b2b2" stroke-width="3.8" stroke-linecap="round" filter="url(#b1)" opacity="1"/>
<line x1="230" y1="410.2" x2="261.5" y2="410.8" stroke="#bcbcbc" stroke-width="3.8" stroke-linecap="round" filter="url(#b1)" opacity="1"/>
</g>
<rect x="89.3" y="401.2" width="178.39999999999998" height="13.9" fill="none" stroke="#111" stroke-width="1.2"/>
<text x="83.1" y="429.5" font-size="7.8" text-anchor="end" fill="#2e2e2e">ERK</text>
<clipPath id="c6"><rect x="89.3" y="419.4" width="178.39999999999998" height="13.9"/></clipPath>
<rect x="89.3" y="419.4" width="178.39999999999998" height="13.9" fill="#e8e8e8"/>
<g clip-path="url(#c6)">
<rect x="89.3" y="419.4" width="178.39999999999998" height="13.9" fill="none" stroke="#000" stroke-opacity="0.1" stroke-width="3.5" filter="url(#b2)"/>
<rect x="91.2" y="423.0" width="174.4" height="9.3" fill="#b9b9b9" filter="url(#b1)"/>
<line x1="93" y1="425.0" x2="131.5" y2="425.0" stroke="#939393" stroke-width="2.8" stroke-linecap="round" filter="url(#b1)" opacity="1"/>
<line x1="93" y1="429.0" x2="131.5" y2="429.0" stroke="#a0a0a0" stroke-width="2.6" stroke-linecap="round" filter="url(#b1)" opacity="1"/>
<line x1="139" y1="425.0" x2="175.5" y2="425.0" stroke="#969696" stroke-width="2.8" stroke-linecap="round" filter="url(#b1)" opacity="1"/>
<line x1="139" y1="429.0" x2="175.5" y2="429.0" stroke="#a2a2a2" stroke-width="2.6" stroke-linecap="round" filter="url(#b1)" opacity="1"/>
<line x1="183" y1="424.8" x2="217.5" y2="424.8" stroke="#929292" stroke-width="2.8" stroke-linecap="round" filter="url(#b1)" opacity="1"/>
<line x1="183" y1="428.6" x2="217.5" y2="428.6" stroke="#9c9c9c" stroke-width="2.6" stroke-linecap="round" filter="url(#b1)" opacity="1"/>
<path d="M225.5 425.8 Q248 425.4 264.5 422.6" fill="none" stroke="#8c8c8c" stroke-width="2.8" stroke-linecap="round" filter="url(#b1)" opacity="1"/>
<path d="M225.5 429.2 Q248 428.8 264.5 426.2" fill="none" stroke="#989898" stroke-width="2.6" stroke-linecap="round" filter="url(#b1)" opacity="1"/>
<rect x="133.2" y="419.4" width="4.0" height="13.9" fill="#ececec" filter="url(#b1)"/>
<rect x="177.0" y="419.4" width="4.0" height="13.9" fill="#ececec" filter="url(#b1)"/>
<rect x="219.0" y="419.4" width="4.0" height="13.9" fill="#ececec" filter="url(#b1)"/>
</g>
<rect x="89.3" y="419.4" width="178.39999999999998" height="13.9" fill="none" stroke="#111" stroke-width="1.2"/>
<text x="83.1" y="447.7" font-size="7.8" text-anchor="end" fill="#2e2e2e">β-actin</text>
<clipPath id="c7"><rect x="89.3" y="437.59999999999997" width="178.39999999999998" height="13.9"/></clipPath>
<rect x="89.3" y="437.59999999999997" width="178.39999999999998" height="13.9" fill="#dedede"/>
<g clip-path="url(#c7)">
<rect x="89.3" y="437.59999999999997" width="178.39999999999998" height="13.9" fill="none" stroke="#000" stroke-opacity="0.14" stroke-width="3.5" filter="url(#b2)"/>
<line x1="98" y1="444.3" x2="132.5" y2="444.3" stroke="#c0c0c0" stroke-width="6.0" stroke-linecap="round" filter="url(#b1)" opacity="1"/>
<line x1="99" y1="444.2" x2="132" y2="444.7" stroke="#8e8e8e" stroke-width="4.2" stroke-linecap="round" filter="url(#b1)" opacity="1"/>
<path d="M140.5 443.6 Q148 445.8 175 445.3" fill="none" stroke="#c2c2c2" stroke-width="5.4" stroke-linecap="round" filter="url(#b1)" opacity="1"/>
<path d="M141.5 443.4 Q148 445.6 174 445.2" fill="none" stroke="#939393" stroke-width="3.4" stroke-linecap="round" filter="url(#b1)" opacity="1"/>
<path d="M182.5 444.0 Q190 446.2 219.5 445.3" fill="none" stroke="#c0c0c0" stroke-width="5.4" stroke-linecap="round" filter="url(#b1)" opacity="1"/>
<path d="M183.5 444.0 Q190 446 219 445.2" fill="none" stroke="#8a8a8a" stroke-width="3.4" stroke-linecap="round" filter="url(#b1)" opacity="1"/>
<line x1="227" y1="446.5" x2="262" y2="446.5" stroke="#bcbcbc" stroke-width="6.0" stroke-linecap="round" filter="url(#b1)" opacity="1"/>
<line x1="227.5" y1="446.3" x2="261.5" y2="446.7" stroke="#7c7c7c" stroke-width="4.6" stroke-linecap="round" filter="url(#b1)" opacity="1"/>
</g>
<rect x="89.3" y="437.59999999999997" width="178.39999999999998" height="13.9" fill="none" stroke="#111" stroke-width="1.2"/>
</g>
<path d="M0 0H520V461H0Z M1 0.85V459.7H518.7V0.85Z" fill="#151515" fill-rule="evenodd"/>
</svg>
</body></html>
